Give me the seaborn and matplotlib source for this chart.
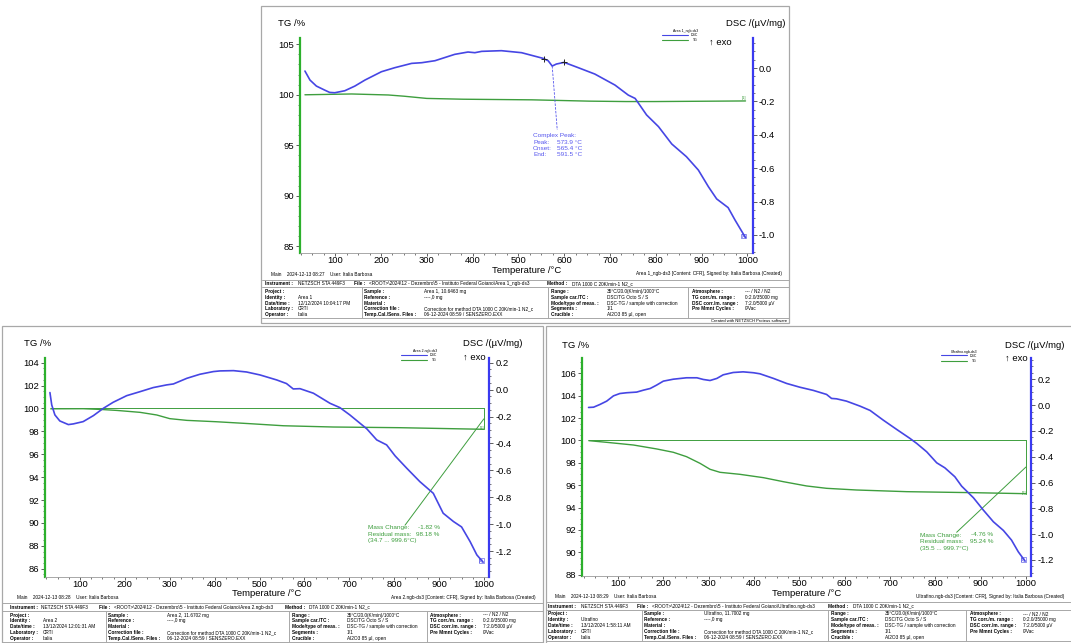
import matplotlib
matplotlib.use("Agg")
import numpy as np
import pandas as pd
import matplotlib.pyplot as plt
import seaborn as sns
from matplotlib.ticker import MultipleLocator, AutoMinorLocator, FuncFormatter
from matplotlib.patches import Rectangle
from matplotlib.lines import Line2D

# ---------------- Area 1 ----------------
area1_dsc_temp = [34, 45, 59, 77, 88, 99, 121, 143, 165, 201, 230, 267, 289, 318, 361, 390, 405, 420,
                  463, 507, 554, 565, 573.9, 583, 600, 631, 667, 711, 740, 755, 780, 806, 835, 867,
                  893, 915, 933, 958, 973, 996]
area1_dsc = [-0.018, -0.072, -0.108, -0.132, -0.146, -0.148, -0.136, -0.108, -0.072, -0.022, 0.002,
             0.028, 0.032, 0.044, 0.082, 0.096, 0.092, 0.100, 0.104, 0.092, 0.058, 0.044, 0.012, 0.024,
             0.034, 0.002, -0.036, -0.102, -0.162, -0.182, -0.281, -0.351, -0.455, -0.531, -0.611,
             -0.711, -0.784, -0.836, -0.910, -1.016]
area1_tg_temp = [34, 136, 216, 250, 300, 380, 530, 655, 735, 798, 900, 996]
area1_tg = [100.0, 100.08, 99.98, 99.86, 99.64, 99.56, 99.50, 99.37, 99.33, 99.33, 99.36, 99.39]
area1_peak = {"peak": 573.9, "onset": 565.4, "end": 591.5}

# ---------------- Area 2 ----------------
area2_dsc_temp = [33, 37, 44, 55, 74, 85, 107, 130, 152, 174, 204, 234, 263, 293, 308, 338, 367, 397,
                  412, 442, 471, 501, 538, 560, 575, 590, 620, 657, 679, 701, 739, 761, 783, 802, 828,
                  857, 887, 909, 932, 950, 969, 984, 998]
area2_dsc = [-0.022, -0.114, -0.188, -0.233, -0.260, -0.255, -0.238, -0.193, -0.139, -0.094, -0.045,
             -0.015, 0.015, 0.035, 0.042, 0.084, 0.114, 0.134, 0.139, 0.141, 0.131, 0.109, 0.072, 0.045,
             0.005, 0.007, -0.027, -0.102, -0.134, -0.188, -0.292, -0.374, -0.411, -0.493, -0.585,
             -0.684, -0.771, -0.919, -0.981, -1.021, -1.130, -1.229, -1.283]
area2_tg_temp = [34.7, 107, 144, 182, 234, 271, 300, 338, 404, 479, 553, 664, 813, 999.6]
area2_tg = [99.97, 99.98, 99.92, 99.83, 99.66, 99.43, 99.11, 98.96, 98.84, 98.67, 98.49, 98.38, 98.32, 98.18]
area2_mass = {"change": -1.82, "residual": 98.18, "t0": 34.7, "t1": 999.6}

# ---------------- Ultrafino ----------------
ultra_dsc_temp = [35, 46, 60, 75, 90, 104, 119, 141, 156, 171, 185, 200, 222, 251, 274, 288, 303, 318,
                  332, 354, 376, 399, 413, 443, 472, 501, 531, 560, 571, 582, 604, 634, 656, 685, 715,
                  744, 759, 781, 803, 821, 843, 858, 884, 906, 928, 950, 968, 983, 998]
ultra_dsc = [-0.018, -0.016, 0.005, 0.031, 0.072, 0.090, 0.096, 0.101, 0.116, 0.129, 0.155, 0.186,
             0.201, 0.212, 0.212, 0.199, 0.191, 0.207, 0.235, 0.253, 0.258, 0.251, 0.243, 0.207, 0.168,
             0.139, 0.114, 0.083, 0.052, 0.049, 0.031, -0.008, -0.041, -0.116, -0.189, -0.258, -0.297,
             -0.362, -0.447, -0.486, -0.555, -0.628, -0.718, -0.814, -0.904, -0.971, -1.046, -1.137,
             -1.209]
ultra_tg_temp = [35.5, 75, 134, 185, 222, 251, 281, 303, 325, 369, 421, 465, 516, 560, 626, 737, 884, 999.7]
ultra_tg = [99.98, 99.83, 99.59, 99.24, 98.94, 98.55, 97.95, 97.42, 97.15, 96.97, 96.67, 96.31, 95.93,
            95.72, 95.57, 95.42, 95.33, 95.24]
ultra_mass = {"change": -4.76, "residual": 95.24, "t0": 35.5, "t1": 999.7}

temp_ticks = [100, 200, 300, 400, 500, 600, 700, 800, 900, 1000]

sns.set_style("white")
plt.rcParams["font.family"] = ["Liberation Sans", "DejaVu Sans"]

W, H = 1071, 643
fig = plt.figure(figsize=(W / 100, H / 100), dpi=100)
fig.patch.set_facecolor("white")

GREEN = "#3e9e3e"
GREEN_AX = "#2cb02c"
BLUE = "#4646e4"
BLUE_AX = "#3a3af0"
BLUE_TXT = "#5656ee"
GRAY = "#a8a8a8"
FS = 6.8


def ftext(x, y, s, size, ha="left", color="black", weight="normal"):
    fig.text(x / W, 1 - y / H, s, fontsize=size, ha=ha, va="center", color=color, fontweight=weight)


def fline(xs, ys, color=GRAY, lw=0.7):
    fig.add_artist(Line2D([x / W for x in xs], [1 - y / H for y in ys], color=color, lw=lw,
                          transform=fig.transFigure))


def frame(x0, y0, x1, y1, color=GRAY, lw=0.9):
    fig.add_artist(Rectangle((x0 / W, 1 - y1 / H), (x1 - x0) / W, (y1 - y0) / H, fill=False,
                             edgecolor=color, lw=lw, transform=fig.transFigure))


def fmt1(v, _pos):
    return f"{round(v, 1) + 0.0:.1f}"


def thermo_panel(box, t, tg, td, dsc, tg_lim, tg_step, dsc_lim, t_lim):
    x0, y0, x1, y1 = box
    ax = fig.add_axes([x0 / W, 1 - y1 / H, (x1 - x0) / W, (y1 - y0) / H])
    ax2 = ax.twinx()
    sns.lineplot(data=pd.DataFrame({"T": t, "TG": tg}), x="T", y="TG", ax=ax, color=GREEN,
                 lw=1.0, sort=False, estimator=None)
    sns.lineplot(data=pd.DataFrame({"T": td, "DSC": dsc}), x="T", y="DSC", ax=ax2, color=BLUE,
                 lw=1.2, sort=False, estimator=None)
    ax.set_xlim(*t_lim)
    ax.set_ylim(*tg_lim)
    ax2.set_ylim(*dsc_lim)
    for a in (ax, ax2):
        a.set_xlabel("")
        a.set_ylabel("")
        a.patch.set_alpha(0)
    ax.set_xticks(temp_ticks)
    ax.xaxis.set_minor_locator(MultipleLocator(25))
    ax.yaxis.set_major_locator(MultipleLocator(tg_step))
    ax.yaxis.set_minor_locator(AutoMinorLocator(5 if tg_step == 5 else 4))
    ax.yaxis.set_major_formatter(FuncFormatter(lambda v, p: f"{v:.0f}"))
    ax2.yaxis.set_major_locator(MultipleLocator(0.2))
    ax2.yaxis.set_minor_locator(AutoMinorLocator(4))
    ax2.yaxis.set_major_formatter(FuncFormatter(fmt1))

    for s in ("top", "right"):
        ax.spines[s].set_visible(False)
    ax.spines["left"].set_color(GREEN_AX)
    ax.spines["left"].set_linewidth(1.6)
    ax.spines["bottom"].set_color("#9a9a9a")
    ax.spines["bottom"].set_linewidth(0.6)
    for s in ("top", "left", "bottom"):
        ax2.spines[s].set_visible(False)
    ax2.spines["right"].set_color(BLUE_AX)
    ax2.spines["right"].set_linewidth(1.6)

    ax.tick_params(axis="both", which="both", direction="out", colors="#444", labelcolor="black",
                   labelsize=FS, left=True, bottom=True, right=False, top=False)
    ax.tick_params(axis="y", which="major", length=3, width=0.6, pad=1.5)
    ax.tick_params(axis="y", which="minor", length=1.6, width=0.5)
    ax.tick_params(axis="x", which="major", length=2, width=0.6, pad=0.3)
    ax.tick_params(axis="x", which="minor", length=1.5, width=0.5)
    ax2.tick_params(axis="y", which="both", direction="out", colors="#444", labelcolor="black",
                    labelsize=FS, right=True, left=False)
    ax2.tick_params(axis="y", which="major", length=3, width=0.6, pad=1.5)
    ax2.tick_params(axis="y", which="minor", length=1.6, width=0.5)

    # end-of-segment tags
    ax.text(t[-1] - 4, tg[-1] + 0.05 * tg_step, "[1]", fontsize=3, color=GREEN, ha="center", va="center")
    ax2.text(td[-1] - 4, dsc[-1] + 0.01, "[1]", fontsize=3, color=BLUE, ha="center", va="center",
             bbox=dict(boxstyle="square,pad=0.1", fc="none", ec=BLUE, lw=0.4))
    return ax, ax2


def panel_labels(tg_xy, dsc_xy, exo_xy, temp_xy, legend_xy, name):
    ftext(*tg_xy, "TG /%", FS)
    ftext(*dsc_xy, "DSC /(µV/mg)", FS)
    ftext(*exo_xy, "↑ exo", FS)
    ftext(*temp_xy, "Temperature /°C", FS, ha="center")
    lx, ly = legend_xy  # right edge, title line
    ftext(lx, ly, name, 2.5, ha="right")
    fline([lx - 36, lx - 10], [ly + 3.8, ly + 3.8], color=BLUE, lw=0.8)
    ftext(lx, ly + 4.2, "DSC", 2.5, ha="right")
    fline([lx - 36, lx - 10], [ly + 9, ly + 9], color=GREEN, lw=0.8)
    ftext(lx, ly + 9.2, "TG", 2.5, ha="right")


def info_table(ab, x_left, x_right, main_x, instr_x, cols, seps, right_note, stamp, ident, dtime,
               sample, fname):
    fs = 3.4
    ftext(main_x, ab + 21, f"Main    {stamp}    User: Italia Barbosa", fs)
    ftext(x_right - 7, ab + 21, right_note, fs, ha="right")
    top, mid, bot = ab + 26.5, ab + 34, ab + 65.5
    fline([x_left, x_right], [top, top])
    fline([x_left, x_right], [mid, mid])
    fline([x_left, x_right], [bot, bot])
    for sx in seps:
        fline([sx, sx], [mid, bot])
    yi = ab + 30.5
    ftext(instr_x[0], yi, "Instrument :", fs, weight="bold")
    ftext(instr_x[1], yi, "NETZSCH STA 449F3", fs)
    ftext(instr_x[2], yi, "File :", fs, weight="bold")
    ftext(instr_x[3], yi, "<ROOT>\\2024\\12 - Dezembro\\5 - Instituto Federal Goiano\\" + fname, fs)
    ftext(instr_x[4], yi, "Method :", fs, weight="bold")
    ftext(instr_x[5], yi, "DTA 1000 C 20K/min-1 N2_c", fs)
    groups = [
        [("Project :", ""), ("Identity :", ident), ("Date/time :", dtime), ("Laboratory :", "CRTI"),
         ("Operator :", "Italia")],
        [("Sample :", sample), ("Reference :", "----,0 mg"), ("Material :", ""),
         ("Correction file :", "Correction for method DTA 1000 C 20K/min-1 N2_c"),
         ("Temp.Cal./Sens. Files :", "06-12-2024 08:59 / SENSZERO.EXX")],
        [("Range :", "35°C/20.0(K/min)/1000°C"), ("Sample car./TC :", "DSC/TG Octo S / S"),
         ("Mode/type of meas. :", "DSC-TG / sample with correction"), ("Segments :", "1/1"),
         ("Crucible :", "Al2O3 85 µl, open")],
        [("Atmosphere :", "--- / N2 / N2"), ("TG corr./m. range :", "0:2.0/35000 mg"),
         ("DSC corr./m. range :", "7:2.0/5000 µV"), ("Pre Mmnt Cycles :", "0/Vac"), ("", "")],
    ]
    for g, rows in enumerate(groups):
        for r, (lab, val) in enumerate(rows):
            y = ab + 38.3 + r * 5.85
            ftext(cols[2 * g], y, lab, fs, weight="bold")
            ftext(cols[2 * g + 1], y, val, fs)


def mass_change(ax, t, info, text_x, text_y, val_right, leader_end):
    t1, res = info["t1"], info["residual"]
    ax.plot([t[0], t1], [100, 100], color=GREEN, lw=0.7)
    ax.plot([t1, t1], [100, res], color=GREEN, lw=0.7)
    mid = (100 + res) / 2
    ax.plot([t1, leader_end[0]], [mid, leader_end[1]], color=GREEN, lw=0.7)
    ftext(text_x, text_y, "Mass Change:", 4.6, color=GREEN)
    ftext(val_right, text_y, f"{info['change']:.2f} %", 4.6, ha="right", color=GREEN)
    ftext(text_x, text_y + 6.6, "Residual mass:", 4.6, color=GREEN)
    ftext(val_right, text_y + 6.6, f"{res:.2f} %", 4.6, ha="right", color=GREEN)
    ftext(text_x, text_y + 13.2, f"({info['t0']:.1f} ... {t1:.1f}°C)", 4.6, color=GREEN)


# ---------------- panel frames ----------------
frame(261, 6, 789, 323)
frame(1.5, 326, 543, 660)
frame(546, 326, 1080, 660)

# ---------------- Area 1 ----------------
ax_a, ax_a2 = thermo_panel((300, 38, 752.7, 253), area1_tg_temp, area1_tg, area1_dsc_temp, area1_dsc,
                           (84.34, 105.62), 5, (-1.108, 0.18), (23.2, 1011.7))
panel_labels((278, 24), (726, 24), (709, 42), (527, 270.5), (698, 31), "Area 1_ngb-ds3")
pk = area1_peak["peak"]
pk_v = np.interp(pk, area1_dsc_temp, area1_dsc)
ax_a2.plot([pk, pk + 11], [pk_v, -0.371], color=BLUE_TXT, lw=0.6, ls=(0, (3, 1.5)))
for tm in (555, 600):
    ax_a2.plot([tm], [np.interp(tm, area1_dsc_temp, area1_dsc)], marker="+", color="#222",
               ms=5, mew=0.7)
for i, (lab, val) in enumerate([("Complex Peak:", ""), ("Peak:", f"{area1_peak['peak']:.1f} °C"),
                                ("Onset:", f"{area1_peak['onset']:.1f} °C"),
                                ("End:", f"{area1_peak['end']:.1f} °C")]):
    ftext(533, 135.5 + i * 6.5, lab, 4.6, color=BLUE_TXT)
    if val:
        ftext(582, 135.5 + i * 6.5, val, 4.6, ha="right", color=BLUE_TXT)
info_table(253, 262, 789, 271, [265, 298, 354, 369, 547, 572],
           [265, 298, 364, 424, 551, 607, 692, 745], [362, 548, 688],
           "Area 1_ngb-ds3 [Content: CFR], Signed by: Italia Barbosa (Created)",
           "2024-12-13 08:27", "Area 1", "12/12/2024 10:04:17 PM", "Area 1, 10.6463 mg",
           "Area 1_ngb-ds3")
ftext(787, 320.5, "Created with NETZSCH Proteus software", 3.0, ha="right")

# ---------------- Area 2 ----------------
ax_b, ax_b2 = thermo_panel((45, 358, 489, 576.7), area2_tg_temp, area2_tg, area2_dsc_temp, area2_dsc,
                           (85.30, 104.41), 2, (-1.391, 0.235), (22.0, 1011.1))
panel_labels((24, 344), (463, 344), (463, 357), (267, 593.5), (437, 351), "Area 2.ngb-ds3")
mass_change(ax_b, area2_tg_temp, area2_mass, 368, 527.7, 439.5, (824, 89.8))
info_table(576.7, 1.5, 543, 17, [10, 41, 99, 114, 285, 309],
           [10, 43, 108, 167, 292, 347, 430, 483], [106, 289, 427],
           "Area 2.ngb-ds3 [Content: CFR], Signed by: Italia Barbosa (Created)",
           "2024-12-13 08:28", "Area 2", "13/12/2024 12:01:31 AM", "Area 2, 11.6702 mg",
           "Area 2.ngb-ds3")

# ---------------- Ultrafino ----------------
ax_c, ax_c2 = thermo_panel((582.3, 358.3, 1031, 575.7), ultra_tg_temp, ultra_tg, ultra_dsc_temp, ultra_dsc,
                           (87.91, 107.34), 2, (-1.322, 0.363), (21.2, 1011.0))
panel_labels((562, 345), (1005, 345), (1005, 358), (807, 593), (977, 351.7), "Ultrafino.ngb-ds3")
mass_change(ax_c, ultra_tg_temp, ultra_mass, 920, 535, 993, (847, 91.79))
info_table(575.7, 546, 1071, 555, [548, 581, 637, 652, 828, 853],
           [548, 581, 644, 704, 831, 885, 970, 1023], [642, 828, 966],
           "Ultrafino.ngb-ds3 [Content: CFR], Signed by: Italia Barbosa (Created)",
           "2024-12-13 08:29", "Ultrafino", "13/12/2024 1:58:11 AM", "Ultrafino, 11.7002 mg",
           "Ultrafino.ngb-ds3")

fig.savefig("out.png", dpi=100, facecolor="white")
